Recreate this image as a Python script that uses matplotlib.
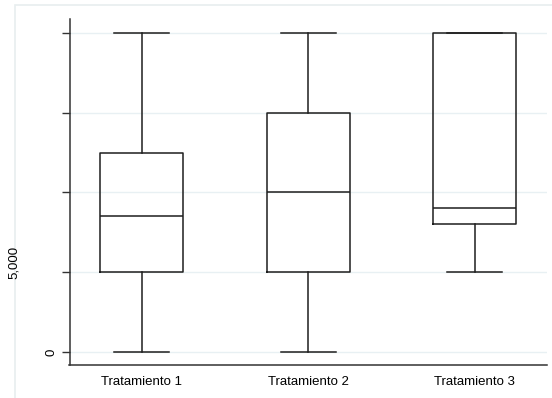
import matplotlib.pyplot as plt
from matplotlib.patches import Rectangle

# Resumen por tratamiento (valores del diagrama de caja)
tratamientos = ["Tratamiento 1", "Tratamiento 2", "Tratamiento 3"]
bigote_inf = [0, 0, 5000]
q1 = [5000, 5000, 8000]
mediana = [8500, 10000, 9000]
q3 = [12500, 15000, 20000]
bigote_sup = [20000, 20000, 20000]

y_ticks = [0, 5000, 10000, 15000, 20000]
y_tick_labels = ["0", "", "", "", ""]
y_titulo = "5,000"

W, H = 552, 398
plt.rcParams['font.family'] = ['Liberation Sans', 'DejaVu Sans']

fig = plt.figure(figsize=(W / 100, H / 100), dpi=100)

# marco exterior claro
fig.patches.append(Rectangle((15 / W, -0.1), 1.2, (H - 5) / H + 0.1,
                             transform=fig.transFigure, fill=False,
                             edgecolor='#e8eeef', linewidth=1.2))

ax = fig.add_axes([69.5 / W, (H - 365) / H, (547 - 69.5) / W, (365 - 19) / H])

stats = []
for i in range(len(tratamientos)):
    stats.append({
        'label': tratamientos[i],
        'whislo': bigote_inf[i],
        'q1': q1[i],
        'med': mediana[i],
        'q3': q3[i],
        'whishi': bigote_sup[i],
        'fliers': [],
    })

col = '#1e1e1e'
ax.bxp(stats, positions=[1, 2, 3], widths=0.5, showfliers=False,
       boxprops=dict(color=col, linewidth=1.1),
       medianprops=dict(color=col, linewidth=1.1),
       whiskerprops=dict(color=col, linewidth=1.1),
       capprops=dict(color=col, linewidth=1.1),
       capwidths=0.33)

ax.set_xlim(0.566, 3.434)
ax.set_ylim(-815, 20875)

ax.set_yticks(y_ticks, labels=y_tick_labels)
ax.tick_params(axis='y', length=5.5, width=1, color='#333333', labelsize=9.5,
               pad=3)
for lab in ax.get_yticklabels():
    lab.set_rotation(90)
    lab.set_va('center')
ax.tick_params(axis='x', length=0, labelsize=9.5, pad=8)

ax.yaxis.grid(True, color='#e8f0f3', linewidth=1)
ax.set_axisbelow(True)

for s in ['top', 'right']:
    ax.spines[s].set_visible(False)
for s in ['left', 'bottom']:
    ax.spines[s].set_color('#333333')
    ax.spines[s].set_linewidth(1.1)

fig.text(14 / W, (H - 262) / H, y_titulo, rotation=90, fontsize=9.5,
         ha='center', va='center')

fig.savefig('out.png', dpi=100)
